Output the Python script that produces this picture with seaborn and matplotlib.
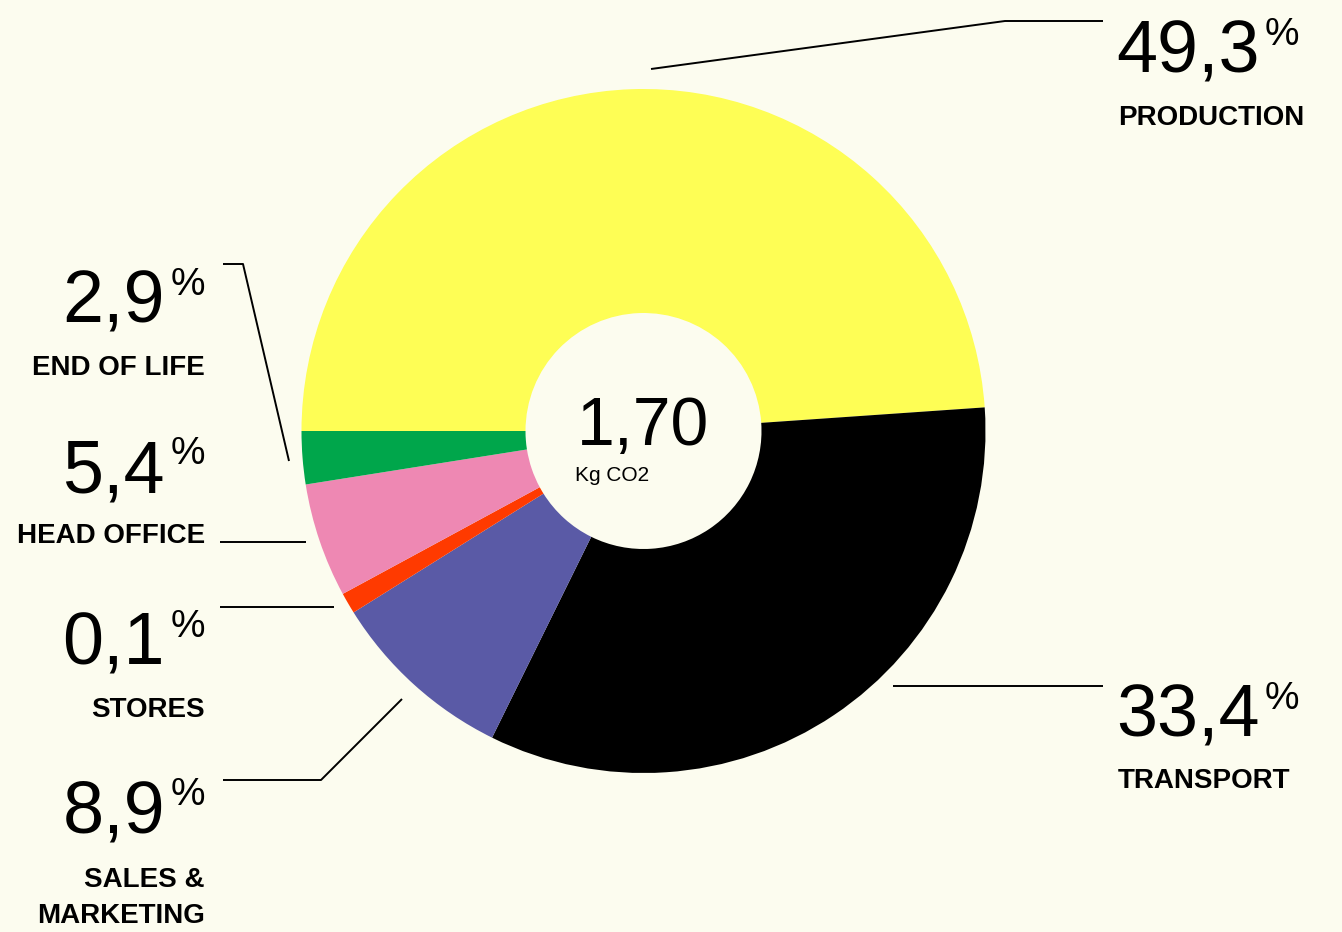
import numpy as np
import pandas as pd
import matplotlib
matplotlib.use('Agg')
import matplotlib.pyplot as plt
import seaborn as sns

# data
categories = ['PRODUCTION', 'TRANSPORT', 'SALES &\nMARKETING', 'STORES', 'HEAD OFFICE', 'END OF LIFE']
shares = [48.9, 33.4, 8.8, 1.0, 5.4, 2.5]          # slice sizes as drawn
labels = ['49,3', '33,4', '8,9', '0,1', '5,4', '2,9']  # printed percentages
colors = ['#FEFE55', '#000000', '#5A5AA6', '#FF3A00', '#EE88B3', '#00A64B']
total_value = '1,70'
total_unit = 'Kg CO2'

df = pd.DataFrame({'category': categories, 'share': shares, 'label': labels, 'color': colors})

BG = '#FCFCEF'
W, H = 1342, 932

sns.set_theme(style='white')
plt.rcParams['font.family'] = ['Liberation Sans', 'DejaVu Sans']
plt.rcParams['text.color'] = 'black'

fig = plt.figure(figsize=(W / 100, H / 100), dpi=100, facecolor=BG)
ax = fig.add_axes([0, 0, 1, 1])
ax.set_facecolor(BG)

cx, cy, r_out, r_in = 643.5, 431, 342, 118
ax.pie(df['share'], colors=df['color'], startangle=180, counterclock=True,
       center=(cx, cy), radius=r_out,
       wedgeprops=dict(width=r_out - r_in, linewidth=0))

ax.set_xlim(0, W)
ax.set_ylim(H, 0)
ax.set_aspect('auto')
ax.axis('off')

# centre text
ax.text(cx, 445, total_value, ha='center', va='baseline', fontsize=49)
ax.text(575, 481, total_unit, ha='left', va='baseline', fontsize=15)

# leader lines (pixel coordinates)
leaders = {
    'PRODUCTION': [(651, 69), (1005, 21), (1103, 21)],
    'TRANSPORT': [(893, 686), (1103, 686)],
    'END OF LIFE': [(289, 461), (243, 264), (223, 264)],
    'HEAD OFFICE': [(306, 542), (220, 542)],
    'STORES': [(334, 607), (220, 607)],
    'SALES &\nMARKETING': [(402, 699), (321, 780), (223, 780)],
}
for pts in leaders.values():
    xs, ys = zip(*pts)
    ax.plot(xs, ys, color='black', lw=1.4, solid_capstyle='butt')

# label anchors: side, x, number baseline, category baseline
anchors = {
    'PRODUCTION': ('right', 1116, 73, 125),
    'TRANSPORT': ('right', 1116, 737, 788),
    'END OF LIFE': ('left', 165, 323, 375),
    'HEAD OFFICE': ('left', 165, 492, 543),
    'STORES': ('left', 165, 665, 717),
    'SALES &\nMARKETING': ('left', 165, 833, 887),
}

for _, row in df.iterrows():
    side, x, yb, yl = anchors[row['category']]
    if side == 'right':
        ax.text(x, yb, row['label'], ha='left', va='baseline', fontsize=53)
        ax.text(x + 149, yb - 28, '%', ha='left', va='baseline', fontsize=28)
        ax.text(x + 2, yl, row['category'], ha='left', va='baseline',
                fontsize=20, fontweight='bold')
    else:
        ax.text(x, yb, row['label'], ha='right', va='baseline', fontsize=53)
        ax.text(x + 40, yb - 28, '%', ha='right', va='baseline', fontsize=28)
        lines = row['category'].split('\n')
        for i, ln in enumerate(lines):
            ax.text(205, yl + i * 36, ln, ha='right', va='baseline',
                    fontsize=20, fontweight='bold')

fig.savefig('out.png', dpi=100, facecolor=BG)
